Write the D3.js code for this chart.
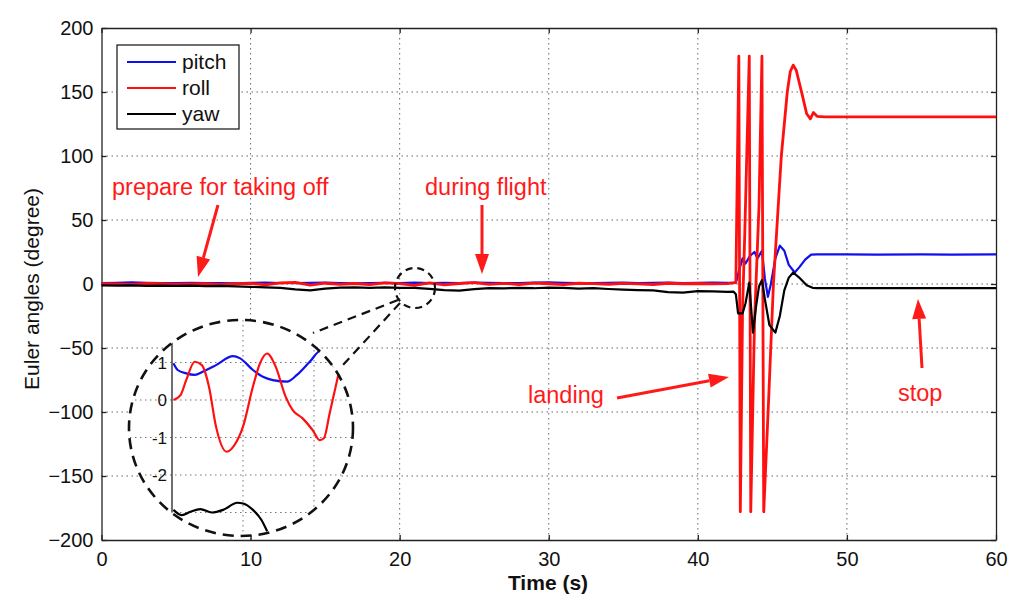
<!DOCTYPE html>
<html>
<head>
<meta charset="utf-8">
<script src="https://cdn.jsdelivr.net/npm/d3@7"></script>
<style>
  body { margin: 0; background: #fff; }
  svg { display: block; font-family: "Liberation Sans", Arial, sans-serif; }
</style>
</head>
<body>
<svg id="chart" width="1024" height="605"></svg>
<script>
// Euler angles, [time (s), degree]
const pitchData = [
  [0,0.8],[1,0.9],[2,1.2],[3,0.9],[4,0.8],[5,0.7],[6,0.9],[7,0.8],[8,0.7],[9,0.6],[10,0.9],
  [11,1.0],[12,0.8],[13,0.7],[14,0.9],[15,1.1],[16,0.8],[17,0.6],[18,0.8],[19,0.9],[20,0.8],
  [21,1.0],[22,0.7],[23,0.9],[24,0.8],[25,1.1],[26,0.9],[27,0.7],[28,0.8],[29,1.0],[30,1.2],
  [31,0.9],[32,0.8],[33,0.7],[34,0.9],[35,1.0],[36,0.8],[37,0.9],[38,1.1],[39,0.8],[40,0.9],
  [41,1.0],[42,0.9],[42.5,0.9],[42.6,3],[42.8,12],[43.0,20],[43.2,16],[43.5,22],[43.8,25],
  [44.0,20],[44.3,26],[44.5,4],[44.7,-10],[44.9,0],[45.2,20],[45.5,30],[45.8,26],[46.1,15],
  [46.5,9],[46.8,13],[47.2,19],[47.6,23],[48,23.2],[50,23.1],[52,23.0],[55,23.2],[57,22.9],[60,23.1]
];
const rollData = [
  [0,0.2],[1,0.1],[2,-0.3],[3,0.4],[4,0.2],[5,-0.2],[6,0.1],[7,0.3],[8,-0.4],[9,0.2],[10,0.5],
  [11,-0.6],[12,0.8],[13,1.2],[14,-0.9],[15,0.6],[16,-0.3],[17,0.4],[18,-0.5],[19,0.8],[20,0.3],
  [21,-1.0],[22,0.9],[23,-0.6],[24,0.4],[25,1.1],[26,-0.3],[27,0.5],[28,-0.4],[29,0.7],[30,0.2],
  [31,-0.5],[32,0.6],[33,0.3],[34,-0.2],[35,0.5],[36,0.1],[37,-0.4],[38,0.6],[39,0.2],[40,0.4],
  [41,0.1],[42,0.3],[42.55,1],[42.75,178],[42.85,-178],[43.0,-20],[43.15,40],[43.45,178],
  [43.55,-178],[43.8,-30],[44.1,60],[44.3,178],[44.42,-178],[44.75,-90],[45.07,0],[45.6,100],
  [46.0,150],[46.2,166],[46.4,171],[46.6,167],[47.0,148],[47.3,133],[47.55,129],[47.75,134],
  [48.0,131],[48.5,130.5],[52,130.5],[56,130.5],[60,130.5]
];
const yawData = [
  [0,-1.0],[1,-1.2],[2,-1.0],[3,-1.4],[4,-1.3],[5,-1.5],[6,-1.2],[7,-1.6],[8,-1.4],[9,-1.8],
  [10,-2.2],[11,-2.6],[12,-3.0],[13,-4.2],[14,-5.0],[15,-3.6],[16,-2.8],[17,-2.6],[18,-3.0],
  [19,-2.7],[20,-3.0],[21,-3.1],[22,-3.8],[23,-4.8],[24,-5.2],[25,-4.0],[26,-3.2],[27,-3.4],
  [28,-3.0],[29,-3.3],[30,-2.8],[31,-3.0],[32,-3.6],[33,-3.2],[34,-3.9],[35,-4.4],[36,-4.8],
  [37,-5.0],[38,-6.4],[39,-6.8],[40,-5.6],[41,-5.8],[42,-6.2],[42.4,-6],[42.55,-8],[42.7,-23],
  [43.0,-23],[43.2,-15],[43.45,1],[43.7,-38],[43.9,-18],[44.1,-2],[44.3,3],[44.5,-12],
  [44.8,-32],[45.2,-38],[45.5,-25],[45.8,-5],[46.1,5],[46.4,9],[46.8,5],[47.3,-1],[47.7,-3],
  [48,-3.2],[52,-3.2],[56,-3.2],[60,-3.2]
];

// zoomed-in detail (inset)
const insetPitch = [
  [20.51,0.98],[20.54,0.8],[20.60,0.71],[20.66,0.67],[20.72,0.76],[20.81,0.93],[20.93,1.17],
  [20.98,1.11],[21.07,0.8],[21.14,0.62],[21.21,0.53],[21.31,0.49],[21.38,0.67],[21.47,1.02],
  [21.55,1.32],[21.60,1.16],[21.62,0.99],[21.68,0.82]
];
const insetRoll = [
  [20.51,0],[20.56,0.13],[20.60,0.53],[20.66,1.02],[20.71,0.93],[20.76,0.36],[20.81,-0.71],
  [20.885,-1.38],[20.94,-1.2],[21.0,-0.71],[21.07,0.36],[21.12,0.98],[21.17,1.24],[21.23,0.89],
  [21.30,0.09],[21.35,-0.27],[21.42,-0.49],[21.49,-0.8],[21.54,-1.07],[21.57,-1.02],
  [21.61,-0.36],[21.68,0.82]
];
const insetYaw = [
  [20.51,-2.93],[20.57,-3.07],[20.63,-2.98],[20.70,-2.91],[20.78,-3.0],[20.86,-2.93],
  [20.96,-2.74],[21.0,-2.76],[21.07,-2.93],[21.13,-3.2],[21.17,-3.5]
];

const xTicks = [0, 10, 20, 30, 40, 50, 60];
const yTicks = [-200, -150, -100, -50, 0, 50, 100, 150, 200];
const insetYTicks = [1, 0, -1, -2];
const insetGridY = [1, 0, -1, -2, -3];
const insetGridX = [21.0, 21.5];
const legendNames = ['pitch', 'roll', 'yaw'];
const colors = { pitch: '#1010ee', roll: '#ff1010', yaw: '#000000' };
const annoRed = '#ff1a1a';

const svg = d3.select('#chart');
const plotL = 101.5, plotR = 996, plotT = 28, plotB = 540;

const x = d3.scaleLinear().domain([0, 60]).range([plotL, plotR]);
const y = d3.scaleLinear().domain([-200, 200]).range([plotB, plotT]);

svg.append('rect').attr('width', 1024).attr('height', 605).attr('fill', '#fff');

// grid
const grid = svg.append('g').attr('stroke', '#666').attr('stroke-width', 1)
  .attr('stroke-dasharray', '1.5,3.5');
xTicks.slice(1, -1).forEach(t => {
  grid.append('line').attr('x1', x(t)).attr('x2', x(t)).attr('y1', plotT).attr('y2', plotB);
});
yTicks.slice(1, -1).forEach(t => {
  grid.append('line').attr('y1', y(t)).attr('y2', y(t)).attr('x1', plotL).attr('x2', plotR);
});

// axes (box with inward ticks)
const gx = svg.append('g').attr('transform', `translate(0,${plotB})`)
  .call(d3.axisBottom(x).tickValues(xTicks).tickSizeInner(-5).tickSizeOuter(0).tickPadding(12));
const gxTop = svg.append('g').attr('transform', `translate(0,${plotT})`)
  .call(d3.axisTop(x).tickValues(xTicks).tickSizeInner(-5).tickSizeOuter(0).tickFormat(''));
const gy = svg.append('g').attr('transform', `translate(${plotL},0)`)
  .call(d3.axisLeft(y).tickValues(yTicks).tickSizeInner(-5).tickSizeOuter(0).tickPadding(8));
const gyRight = svg.append('g').attr('transform', `translate(${plotR},0)`)
  .call(d3.axisRight(y).tickValues(yTicks).tickSizeInner(-5).tickSizeOuter(0).tickFormat(''));
[gx, gxTop, gy, gyRight].forEach(g => {
  g.select('.domain').attr('stroke', '#222').attr('stroke-width', 1.3);
  g.selectAll('.tick line').attr('stroke', '#222').attr('stroke-width', 1.3);
  g.selectAll('text').attr('font-size', 20).attr('fill', '#111')
    .attr('font-family', '"Liberation Sans", Arial, sans-serif');
});

// series
const line = d3.line().x(d => x(d[0])).y(d => y(d[1]));
const series = [['pitch', pitchData], ['roll', rollData], ['yaw', yawData]];
series.forEach(([name, data]) => {
  svg.append('path').datum(data).attr('d', line).attr('fill', 'none')
    .attr('stroke', colors[name]).attr('stroke-width', name === 'roll' ? 2.8 : 2.2)
    .attr('stroke-linejoin', 'round');
});

// axis labels
svg.append('text').attr('x', 548).attr('y', 590).attr('text-anchor', 'middle')
  .attr('font-size', 21).attr('font-weight', 'bold').attr('fill', '#111').text('Time (s)');
svg.append('text').attr('transform', 'translate(39,289) rotate(-90)').attr('text-anchor', 'middle')
  .attr('font-size', 21).attr('fill', '#111').text('Euler angles (degree)');

// legend
const legend = svg.append('g');
legend.append('rect').attr('x', 117).attr('y', 45).attr('width', 122).attr('height', 84)
  .attr('fill', '#fff').attr('stroke', '#222').attr('stroke-width', 1.3);
legendNames.forEach((name, i) => {
  const ly = 62 + i * 26;
  legend.append('line').attr('x1', 127).attr('x2', 176).attr('y1', ly).attr('y2', ly)
    .attr('stroke', colors[name]).attr('stroke-width', 2.2);
  legend.append('text').attr('x', 182).attr('y', ly + 7).attr('font-size', 21)
    .attr('fill', '#111').text(name);
});

// annotations
function arrow(x1, y1, x2, y2) {
  const ang = Math.atan2(y2 - y1, x2 - x1);
  const len = 20, half = 7;
  const bx = x2 - len * Math.cos(ang), by = y2 - len * Math.sin(ang);
  svg.append('line').attr('x1', x1).attr('y1', y1).attr('x2', bx).attr('y2', by)
    .attr('stroke', annoRed).attr('stroke-width', 3);
  const px = -Math.sin(ang) * half, py = Math.cos(ang) * half;
  svg.append('path')
    .attr('d', `M${x2},${y2}L${bx + px},${by + py}L${bx - px},${by - py}Z`)
    .attr('fill', annoRed);
}
const notes = [
  { text: 'prepare for taking off', x: 112, y: 195, from: [218, 205], to: [198, 277] },
  { text: 'during flight', x: 425, y: 195, from: [482, 205], to: [482, 274] },
  { text: 'landing', x: 528, y: 403, from: [617, 398], to: [729, 377] },
  { text: 'stop', x: 898, y: 401, from: [922, 368], to: [918, 299] }
];
notes.forEach(n => {
  svg.append('text').attr('x', n.x).attr('y', n.y).attr('font-size', 23.5)
    .attr('fill', annoRed).text(n.text);
  arrow(n.from[0], n.from[1], n.to[0], n.to[1]);
});

// zoom marker + connectors
const dash = g => g.attr('fill', 'none').attr('stroke', '#111').attr('stroke-width', 2.2);
dash(svg.append('circle').attr('cx', 415).attr('cy', 288).attr('r', 20))
  .attr('stroke-dasharray', '7,5');
dash(svg.append('line').attr('x1', 398).attr('y1', 300).attr('x2', 313).attr('y2', 333))
  .attr('stroke-dasharray', '9,6');
dash(svg.append('line').attr('x1', 400).attr('y1', 303).attr('x2', 343).attr('y2', 365))
  .attr('stroke-dasharray', '9,6');

// inset
const cx = 241, cy = 428, rx = 112, ry = 108;
const ix = d3.scaleLinear().domain([20.5, 21.7]).range([172, 342.4]);
const iy = d3.scaleLinear().domain([-3, 1.6]).range([512.5, 340]);
svg.append('clipPath').attr('id', 'insetClip')
  .append('ellipse').attr('cx', cx).attr('cy', cy).attr('rx', rx).attr('ry', ry);
const inset = svg.append('g').attr('clip-path', 'url(#insetClip)');
inset.append('ellipse').attr('cx', cx).attr('cy', cy).attr('rx', rx).attr('ry', ry).attr('fill', '#fff');
const igrid = inset.append('g').attr('stroke', '#777').attr('stroke-width', 1)
  .attr('stroke-dasharray', '1.5,3.5');
insetGridY.forEach(v => {
  igrid.append('line').attr('x1', 120).attr('x2', 360).attr('y1', iy(v)).attr('y2', iy(v));
});
insetGridX.forEach(v => {
  igrid.append('line').attr('x1', ix(v)).attr('x2', ix(v)).attr('y1', 310).attr('y2', 545);
});
inset.append('line').attr('x1', 172).attr('x2', 172).attr('y1', 340).attr('y2', 512.5)
  .attr('stroke', '#222').attr('stroke-width', 1.3);
insetYTicks.forEach(v => {
  inset.append('text').attr('x', 167).attr('y', iy(v) + 6).attr('text-anchor', 'end')
    .attr('font-size', 17).attr('fill', '#111').text(v);
});
const iline = d3.line().x(d => ix(d[0])).y(d => iy(d[1])).curve(d3.curveMonotoneX);
[['pitch', insetPitch], ['roll', insetRoll], ['yaw', insetYaw]].forEach(([name, data]) => {
  inset.append('path').datum(data).attr('d', iline).attr('fill', 'none')
    .attr('stroke', colors[name]).attr('stroke-width', 2.2);
});
dash(svg.append('ellipse').attr('cx', cx).attr('cy', cy).attr('rx', rx).attr('ry', ry))
  .attr('stroke-width', 2.6).attr('stroke-dasharray', '11,7');
</script>
</body>
</html>
